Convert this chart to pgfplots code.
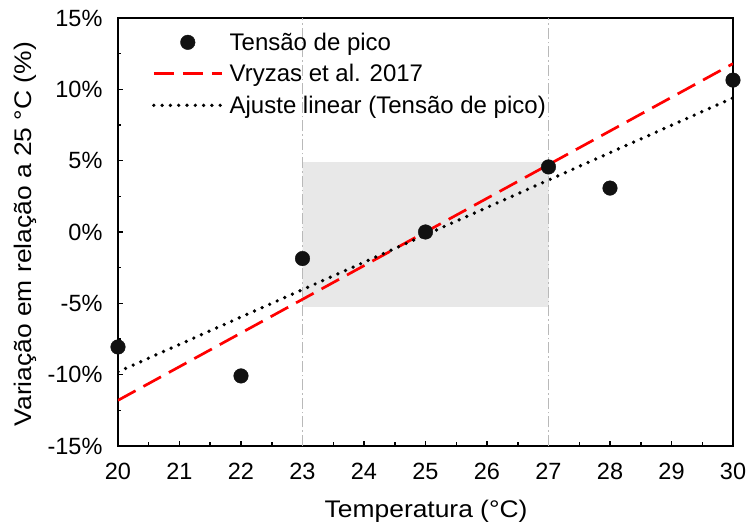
\documentclass[border=0pt]{standalone}
\usepackage{pgfplots}
\pgfplotsset{compat=1.18}
\usepackage{fontspec}
\setmainfont{Liberation Sans}
\newfontfamily\labelfont{Liberation Sans}[FakeStretch=1.1]
\definecolor{rectgray}{RGB}{232,232,232}
\definecolor{vgray}{RGB}{185,185,185}
\definecolor{dotblack}{RGB}{17,17,17}
\pgfplotsset{
  lineleg/.style={legend image code/.code={\draw[##1] (0pt,0pt) -- (68pt,0pt);}},
  markleg/.style={legend image code/.code={\draw[##1] plot coordinates {(34pt,0pt)};}},
}
\begin{document}
\begin{tikzpicture}
\path[use as bounding box] (-118pt,-78pt) rectangle (629pt,446pt);
\begin{axis}[
  scale only axis,
  width=615pt, height=428pt,
  xmin=20, xmax=30, ymin=-15, ymax=15,
  xtick={20,...,30},
  ytick={-15,-10,-5,0,5,10,15},
  yticklabels={-15\%,-10\%,-5\%,0\%,5\%,10\%,15\%},
  minor x tick num=1, minor y tick num=1,
  tick align=inside,
  xtick pos=left, ytick pos=left,
  major tick length=5pt, minor tick length=3.5pt,
  every tick/.style={black, line width=1.5pt},
  axis line style={line width=2pt},
  /pgf/number format/assume math mode=true,
  tick label style={font=\fontsize{23.5}{27}\selectfont},
  yticklabel style={xshift=-12pt},
  xticklabel style={yshift=-14pt},
  label style={font=\labelfont\fontsize{24}{28}\selectfont},
  xlabel={Temperatura (°C)},
  ylabel={Variação em relação a 25 °C (\%)},
  xlabel style={at={(axis description cs:0.501,-0.166)}, anchor=base},
  ylabel style={at={(axis description cs:-0.1403,0.495)}, anchor=base},
  legend style={at={(rel axis cs:0.05,0.975)}, anchor=north west, draw=none, fill=none,
    column sep=4pt, row sep=8.6pt,
    font=\fontsize{24}{28}\selectfont,
    nodes={inner sep=2pt}},
  legend cell align=left,
]
% shaded region
\addplot[draw=none, fill=rectgray, forget plot] coordinates {(23,-5.25) (27,-5.25) (27,4.9) (23,4.9) (23,-5.25)};
% legend image for markers
\addlegendimage{only marks, mark=*, mark size=7.3pt, draw=dotblack, fill=dotblack, markleg}
\addlegendentry{Tensão de pico}
% Vryzas line
\addplot[red, line width=2.7pt, dash pattern=on 20pt off 9pt, lineleg]
  coordinates {(20,-11.8) (30,11.8)};
\addlegendentry{Vryzas et al. 2017}
% linear fit
\addplot[black, line width=3.7pt, line cap=round, dash pattern=on 0pt off 8.3pt, lineleg]
  coordinates {(20,-9.8) (30,9.4)};
\addlegendentry{Ajuste linear (Tensão de pico)}
% data points
\addplot[only marks, mark=*, mark size=7.3pt, draw=dotblack, fill=dotblack, forget plot]
  coordinates {(20,-8.06) (22,-10.09) (23,-1.86) (25,0) (27,4.56) (28,3.08) (30,10.65)};
% vertical dash-dot lines
\addplot[vgray, line width=1.2pt, dash pattern=on 11pt off 3pt on 1.5pt off 3pt, forget plot]
  coordinates {(23,-15) (23,15)};
\addplot[vgray, line width=1.2pt, dash pattern=on 11pt off 3pt on 1.5pt off 3pt, forget plot]
  coordinates {(27,-15) (27,15)};
\end{axis}
\end{tikzpicture}
\end{document}
